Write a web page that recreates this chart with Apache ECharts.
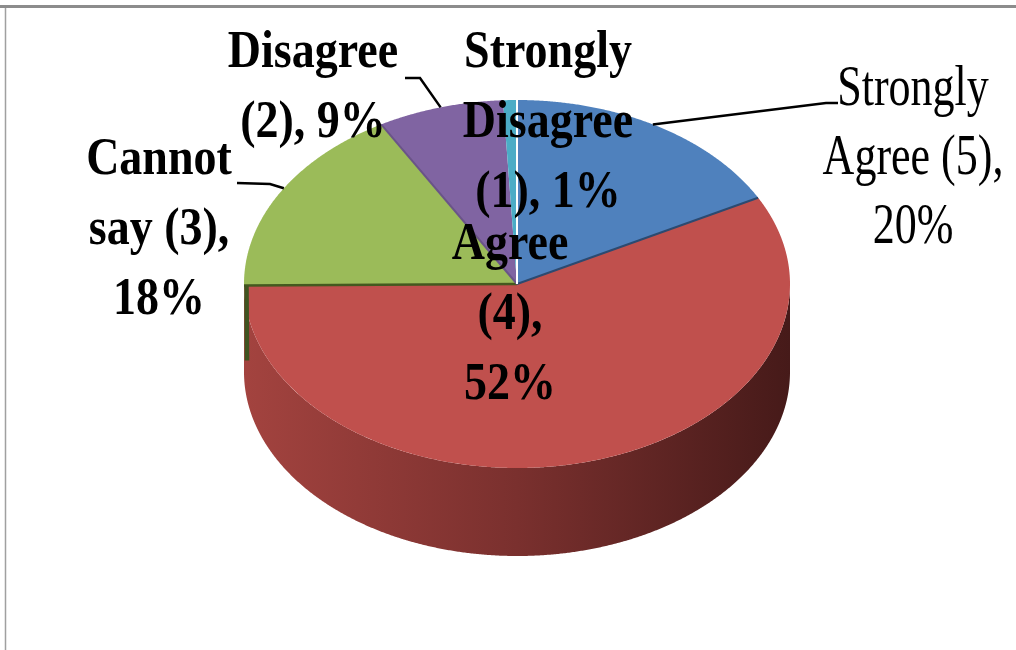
<!DOCTYPE html>
<html>
<head>
<meta charset="utf-8">
<script src="https://cdn.jsdelivr.net/npm/echarts@6/dist/echarts.min.js"></script>
<style>
  html, body { margin: 0; padding: 0; background: #fff; }
  #chart { width: 1016px; height: 650px; }
</style>
</head>
<body>
<div id="chart"></div>
<script>
// Responses, in the order the slices run clockwise from 12 o'clock
const categories = ['Strongly Agree (5)', 'Agree (4)', 'Cannot say (3)', 'Disagree (2)', 'Strongly Disagree (1)'];
const shares = [20, 52, 18, 9, 1];

// Slice colours: top face, wall gradient (left -> right), edge lines
const topColors = ['#4f81bd', '#c0504d', '#9bbb59', '#8064a2', '#4bacc6'];
const wallStops = [
  ['#44699a', '#22395a'],
  ['#a3433f', '#7a302e', '#461a19'],
  ['#6f8a3c', '#4b5e29'],
  ['#65507f', '#3b2e4b'],
  ['#3b889c', '#22505b']
];
const edgeStyle = [
  { end: '#2c4a70' },
  {},
  { start: '#44591f', end: '#6a5488', seam: '#3f5420' },
  {},
  { end: '#ffffff' }
];

// Pie body: ellipse of the top face, wall height, perspective squeeze of the far side
const geo = { cx: 517, cy: 284, rx: 273, ry: 184, depth: 88, warp: 0.183 };

// Label placement: centre of first line, how words wrap, leader line (elbow, end)
const labelLayout = [
  { x: 913, y: 90, breaks: [1, 2, 1], bold: false, leader: [[826, 103], [838, 103]] },
  { x: 510, y: 245, breaks: [1, 1, 1], bold: true },
  { x: 159, y: 160, breaks: [1, 2, 1], bold: true, leader: [[270, 184], [237, 183]] },
  { x: 313, y: 53, breaks: [1, 2], bold: true, leader: [[420, 78], [405, 78]] },
  { x: 548, y: 53, breaks: [1, 1, 2], bold: true }
];
const serif = '"Liberation Serif", "Times New Roman", "DejaVu Serif", serif';
const fontBold = { size: 46, scaleY: 1.15, step: 70 };
const fontPlain = { size: 44, scaleY: 1.3, step: 69 };

const total = shares.reduce((a, b) => a + b, 0);
const starts = [];
shares.reduce((acc, v) => { starts.push(acc / total * 360); return acc + v; }, 0);

// angle on the tilted disc (deg, clockwise from top) -> projected parametric angle (rad)
function warp(deg) {
  const t = deg * Math.PI / 180;
  return t - geo.warp * Math.sin(t);
}
function onRim(phi, r, dy) {
  return [geo.cx + geo.rx * r * Math.sin(phi), geo.cy - geo.ry * r * Math.cos(phi) + (dy || 0)];
}
function arc(p0, p1, dy) {
  const pts = [];
  const n = Math.max(2, Math.ceil(Math.abs(p1 - p0) / 0.005));
  for (let i = 0; i <= n; i++) pts.push(onRim(p0 + (p1 - p0) * i / n, 1, dy));
  return pts;
}

function renderItem(params, api) {
  const i = params.dataIndex;
  const value = api.value(0);
  const a0 = starts[i];
  const a1 = a0 + value / total * 360;
  const p0 = warp(a0), p1 = warp(a1);
  const children = [];

  // front wall (only the part facing the viewer)
  const lo = Math.max(p0, Math.PI / 2), hi = Math.min(p1, Math.PI * 1.5);
  if (lo < hi) {
    const top = arc(lo, hi, 0);
    const bottom = arc(hi, lo, geo.depth);
    const stops = wallStops[i].map((c, k, arr) => ({ offset: k / (arr.length - 1), color: c }));
    children.push({
      type: 'polygon', z2: 1,
      shape: { points: top.concat(bottom) },
      style: { fill: new echarts.graphic.LinearGradient(0, 0, 1, 0, stops), stroke: null }
    });
  }

  // top face
  const centre = [geo.cx, geo.cy];
  children.push({
    type: 'polygon', z2: 2,
    shape: { points: [centre].concat(arc(p0, p1, 0)) },
    style: { fill: topColors[i], stroke: null }
  });

  // slice edges
  const e = edgeStyle[i];
  const s0 = onRim(p0, 1), s1 = onRim(p1, 1);
  if (e.start) children.push({ type: 'line', z2: 3, shape: { x1: geo.cx, y1: geo.cy, x2: s0[0], y2: s0[1] }, style: { stroke: e.start, lineWidth: 2.5 } });
  if (e.end) children.push({ type: 'line', z2: 3, shape: { x1: geo.cx, y1: geo.cy, x2: s1[0], y2: s1[1] }, style: { stroke: e.end, lineWidth: 2 } });
  if (e.seam) children.push({ type: 'line', z2: 3, shape: { x1: s0[0] + 2.5, y1: s0[1], x2: s0[0] + 3, y2: s0[1] + geo.depth * 0.85 }, style: { stroke: e.seam, lineWidth: 4.5 } });

  // leader line from the rim at the slice's middle
  const lay = labelLayout[i];
  if (lay.leader) {
    const from = onRim(warp((a0 + a1) / 2), 1);
    children.push({
      type: 'polyline', z2: 4,
      shape: { points: [from].concat(lay.leader) },
      style: { stroke: '#000', lineWidth: 2.5, fill: null }
    });
  }

  // label text: "<category>, <value>%", wrapped by word
  const words = (categories[i] + ', ' + value + '%').split(' ');
  const f = lay.bold ? fontBold : fontPlain;
  let w = 0;
  lay.breaks.forEach((count, line) => {
    const text = words.slice(w, w + count).join(' ');
    w += count;
    children.push({
      type: 'text', z2: 5,
      x: lay.x, y: lay.y + line * f.step, scaleY: f.scaleY,
      style: {
        text: text, x: 0, y: 0, align: 'center', verticalAlign: 'middle',
        fontFamily: serif, fontSize: f.size, fontWeight: lay.bold ? 'bold' : 'normal',
        fill: '#000'
      }
    });
  });

  return { type: 'group', children: children };
}

const chart = echarts.init(document.getElementById('chart'), null, { renderer: 'canvas' });
chart.setOption({
  backgroundColor: '#ffffff',
  animation: false,
  graphic: [
    { type: 'line', shape: { x1: 0, y1: 6.5, x2: 1016, y2: 6.5 }, style: { stroke: '#8c8c8c', lineWidth: 3 } },
    { type: 'line', shape: { x1: 5.5, y1: 8, x2: 5.5, y2: 650 }, style: { stroke: '#a0a0a0', lineWidth: 1.5 } }
  ],
  series: [{
    type: 'custom',
    coordinateSystem: 'none',
    renderItem: renderItem,
    data: shares.map((v, i) => ({ name: categories[i], value: v }))
  }]
});
</script>
</body>
</html>
